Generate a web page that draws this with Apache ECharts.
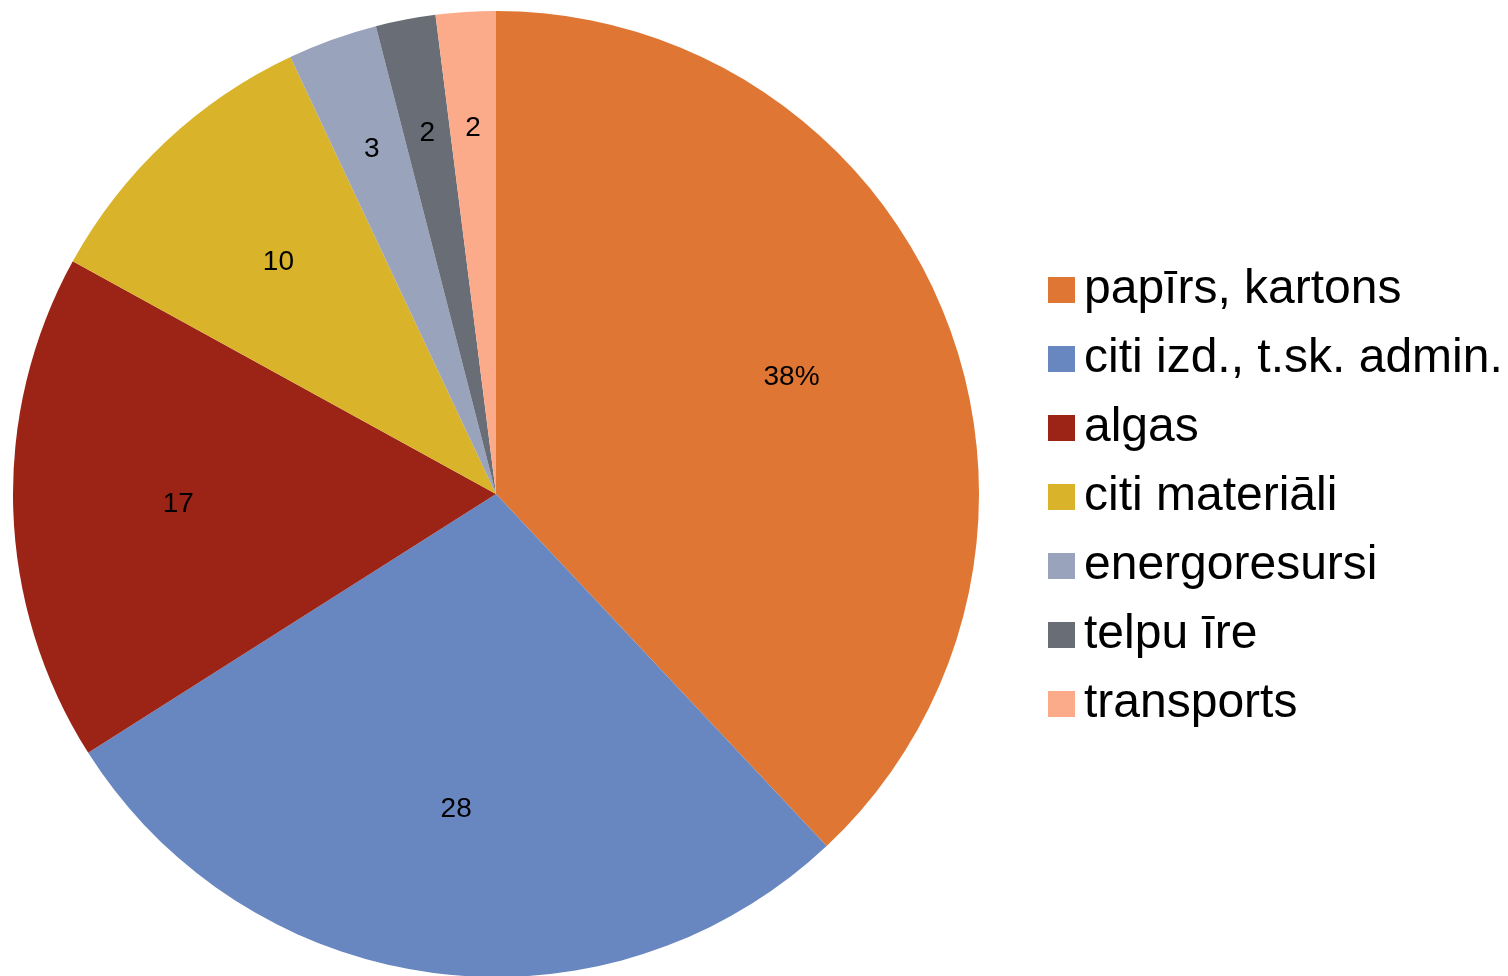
<!DOCTYPE html>
<html>
<head>
<meta charset="utf-8">
<script src="https://cdn.jsdelivr.net/npm/echarts@6/dist/echarts.min.js"></script>
<style>
html,body{margin:0;padding:0;background:#fff;}
#chart{width:1508px;height:976px;}
</style>
</head>
<body>
<div id="chart"></div>
<script>
const categories = ['papīrs, kartons', 'citi izd., t.sk. admin.', 'algas', 'citi materiāli', 'energoresursi', 'telpu īre', 'transports'];
const values = [38, 28, 17, 10, 3, 2, 2];
const labelTexts = ['38%', '28', '17', '10', '3', '2', '2'];
const colors = ['#E07633', '#6886BF', '#9C2416', '#D9B32A', '#99A3BC', '#686D76', '#FBAA8A'];

const CX = 496, CY = 494, R = 483;

const chart = echarts.init(document.getElementById('chart'), null, {renderer: 'canvas'});
const data = categories.map((c, i) => ({name: c, value: values[i], itemStyle: {color: colors[i]}}));

chart.setOption({
  animation: false,
  backgroundColor: '#ffffff',
  legend: {
    orient: 'vertical',
    left: 1048,
    top: 266,
    padding: 0,
    icon: 'rect',
    itemWidth: 27,
    itemHeight: 26,
    itemGap: 21,
    textStyle: {fontFamily: 'Liberation Sans, Arial, sans-serif', fontSize: 48, lineHeight: 48, color: '#000', padding: [0,0,0,4]},
    data: categories
  },
  series: [{
    type: 'pie',
    center: [CX, CY],
    radius: [0, R],
    startAngle: 90,
    clockwise: true,
    data: data,
    itemStyle: {borderWidth: 0},
    label: {
      show: true,
      position: 'inside',
      fontFamily: 'Liberation Sans, Arial, sans-serif',
      fontSize: 28,
      color: '#000',
      formatter: p => labelTexts[p.dataIndex]
    },
    labelLine: {show: false},
    labelLayout: function (params) {
      const r = params.labelRect;
      const lx = r.x + r.width / 2, ly = r.y + r.height / 2;
      const vx = lx - CX, vy = ly - CY;
      const frac = values[params.dataIndex] < 5 ? 0.75 : 0.65;
      const k = frac / 0.5;
      return {dx: vx * (k - 1), dy: vy * (k - 1)};
    },
    emphasis: {disabled: true}
  }]
});
</script>
</body>
</html>
